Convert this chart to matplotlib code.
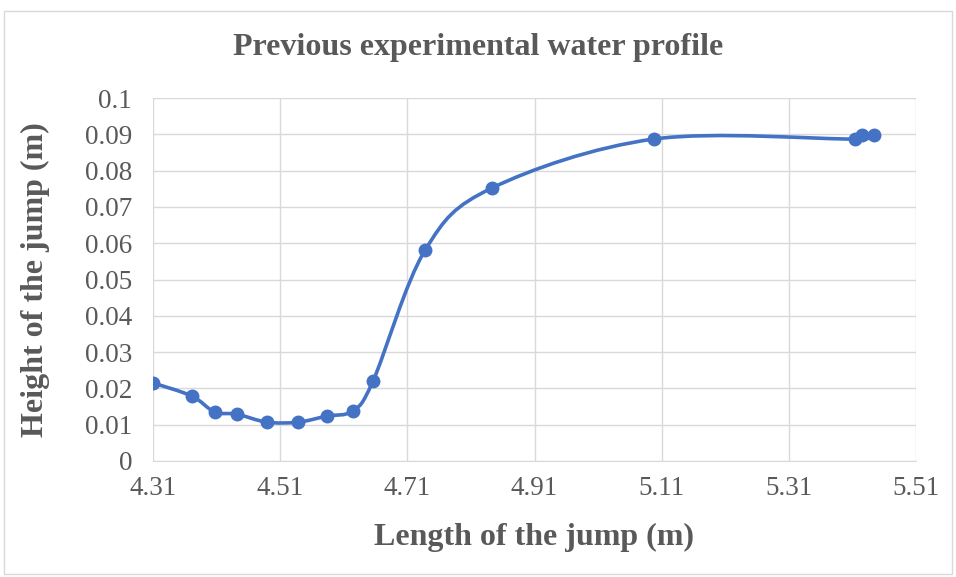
import numpy as np
import matplotlib
matplotlib.use("Agg")
import matplotlib.pyplot as plt
from matplotlib.path import Path
from matplotlib.patches import PathPatch, Rectangle

# data
length_m = [4.310, 4.371, 4.407, 4.442, 4.489, 4.538, 4.584, 4.624, 4.656,
            4.738, 4.843, 5.098, 5.414, 5.425, 5.444]
height_m = [0.0215, 0.0179, 0.0135, 0.0129, 0.0107, 0.0107, 0.0124, 0.0138, 0.0220,
            0.0581, 0.0752, 0.0887, 0.0887, 0.0898, 0.0898]
xticks = [4.31, 4.51, 4.71, 4.91, 5.11, 5.31, 5.51]
yticks = [0, 0.01, 0.02, 0.03, 0.04, 0.05, 0.06, 0.07, 0.08, 0.09, 0.1]

blue = '#4472C4'
grey = '#595959'
plt.rcParams['font.family'] = ['Liberation Serif', 'DejaVu Serif']

fig = plt.figure(figsize=(9.56, 5.77), dpi=100)
ax = fig.add_axes([153/956, 1-461/577, (916-153)/956, (461-98)/577])

# smoothed line like excel: bezier segments through the points
pts = np.column_stack([length_m, height_m])
verts = [pts[0]]
codes = [Path.MOVETO]
n = len(pts)
for i in range(n-1):
    p0 = pts[i-1] if i > 0 else pts[i]
    p1 = pts[i]
    p2 = pts[i+1]
    p3 = pts[i+2] if i+2 < n else pts[i+1]
    c1 = p1 + (p2 - p0)/6
    c2 = p2 - (p3 - p1)/6
    verts += [c1, c2, p2]
    codes += [Path.CURVE4]*3
ax.add_patch(PathPatch(Path(verts, codes), fill=False, edgecolor=blue, lw=2.6, zorder=3))
ax.plot(length_m, height_m, 'o', color=blue, ms=9, zorder=4)

ax.set_xlim(4.31, 5.51)
ax.set_ylim(0, 0.1)
ax.set_xticks(xticks)
ax.set_xticklabels(['%.2f' % v for v in xticks])
ax.set_yticks(yticks)
ax.set_yticklabels(['0'] + ['%.2f' % v for v in yticks[1:-1]] + ['0.1'])
ax.grid(True, color='#d9d9d9', lw=1)
ax.set_axisbelow(True)
for s in ['top', 'right', 'left']:
    ax.spines[s].set_visible(False)
ax.spines['bottom'].set_color('#d9d9d9')
ax.tick_params(length=0, labelsize=19.5, colors=grey)
ax.tick_params(axis='x', pad=11)
ax.tick_params(axis='y', pad=15)

ax.set_xlabel('Length of the jump (m)', fontsize=23, fontweight='bold', color=grey)
ax.set_ylabel('Height of the jump (m)', fontsize=23, fontweight='bold', color=grey)
ax.xaxis.set_label_coords(0.5, (461-537)/363)
ax.yaxis.set_label_coords((35-153)/763, 0.5)
for lab in (ax.xaxis.label, ax.yaxis.label):
    lab.set_verticalalignment('center')
fig.text(0.5, 1-48/577, 'Previous experimental water profile', ha='center', va='center',
         fontsize=23, fontweight='bold', color=grey)

fig.patches.append(Rectangle((4/956, 0.005), 1-8/956, 1-14/577, transform=fig.transFigure,
                             fill=False, edgecolor='#d9d9d9', lw=1))

fig.savefig('out.png', dpi=100)
